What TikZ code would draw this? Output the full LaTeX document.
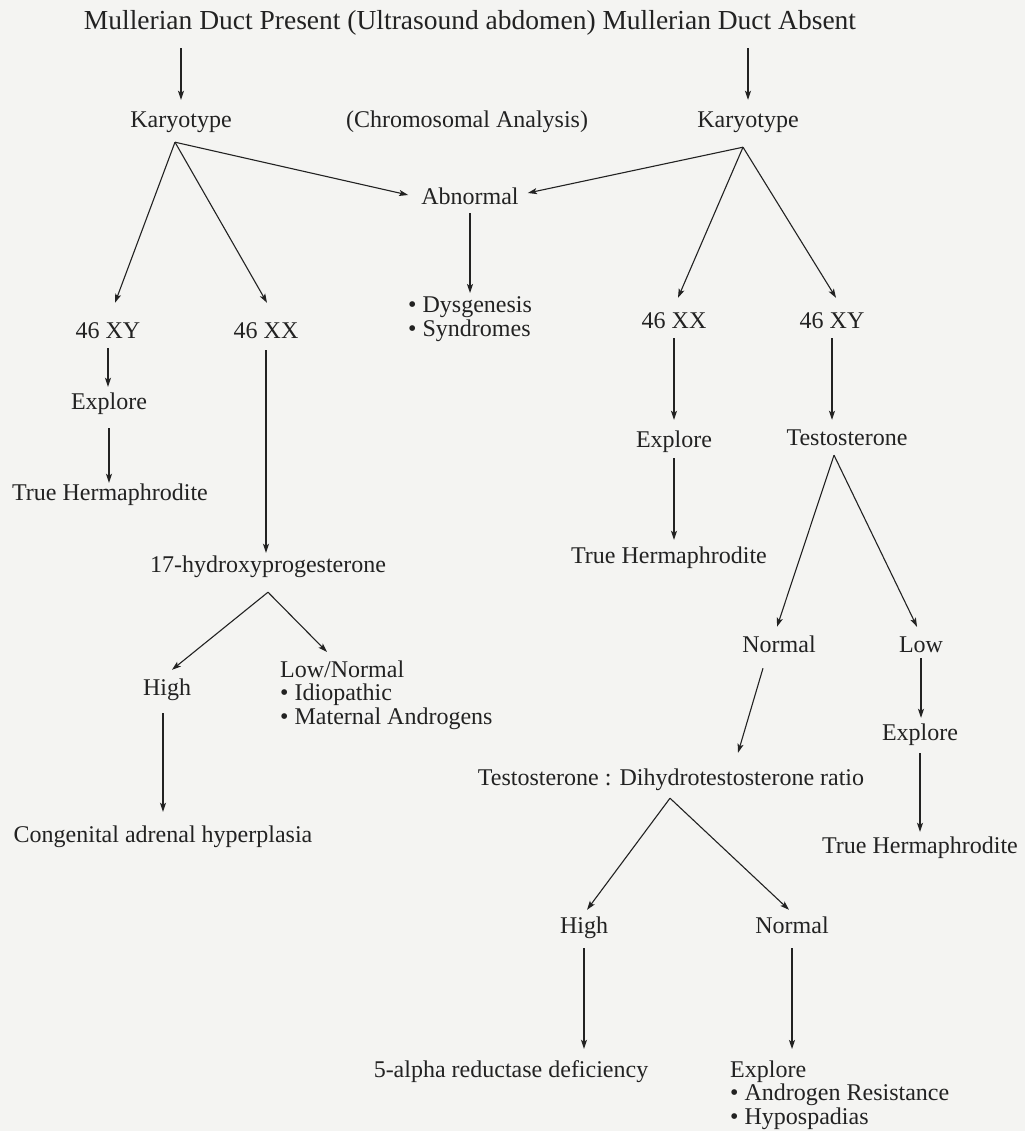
\documentclass[tikz,border=0pt]{standalone}
\usepackage{fontspec}
\setmainfont{Liberation Serif}
\usetikzlibrary{arrows.meta,calc}
\definecolor{bgc}{RGB}{244,244,242}
\definecolor{ink}{RGB}{34,34,34}
\begin{document}
\begin{tikzpicture}[x=1pt,y=-1pt,
  lbl/.style={anchor=base,inner sep=0pt,text height=17pt,text depth=6pt,text=ink,font=\fontsize{24}{23.5}\selectfont},
  blk/.style={anchor=base west,inner sep=0pt,align=left,text=ink,font=\fontsize{24}{23.5}\selectfont},
  toptxt/.style={anchor=base,inner sep=0pt,text height=19pt,text depth=7pt,text=ink,font=\fontsize{27.5}{30}\selectfont},
  arr/.style={draw=ink,line width=1.1pt,-{Stealth[length=9pt,width=6pt,inset=2pt]}}]
\fill[bgc] (0,0) rectangle (1025,1131);
\useasboundingbox (0,0) rectangle (1025,1131);

\node[toptxt] (top) at (470,30) {Mullerian Duct Present (Ultrasound abdomen) Mullerian Duct Absent};
\node[lbl] (K1) at (181,128) {Karyotype};
\node[lbl] (CA) at (467,128) {(Chromosomal Analysis)};
\node[lbl] (K2) at (748,128) {Karyotype};
\node[lbl] (AB) at (470,205) {Abnormal};
\node[blk] (DY) at (408,336) {• Dysgenesis\\• Syndromes};
\node[lbl] (XY1) at (108,338) {46 XY};
\node[lbl] (XX1) at (266,338) {46 XX};
\node[lbl] (EX1) at (109,409) {Explore};
\node[lbl] (TH1) at (110,500) {True Hermaphrodite};
\node[lbl] (OHP) at (268,572) {17-hydroxyprogesterone};
\node[lbl] (HI1) at (167,695) {High};
\node[blk] (LN) at (280,724) {Low/Normal\\• Idiopathic\\• Maternal Androgens};
\node[lbl] (CAH) at (163,842) {Congenital adrenal hyperplasia};
\node[lbl] (XX2) at (674,328) {46 XX};
\node[lbl] (XY2) at (832,328) {46 XY};
\node[lbl] (EX2) at (674,447) {Explore};
\node[lbl] (TH2) at (669,563) {True Hermaphrodite};
\node[lbl] (TE) at (847,445) {Testosterone};
\node[lbl] (NO1) at (779,652) {Normal};
\node[lbl] (LO) at (921,652) {Low};
\node[lbl] (EX3) at (920,740) {Explore};
\node[lbl] (TH3) at (920,853) {True Hermaphrodite};
\node[lbl] (TD) at (671,785) {Testosterone : Dihydrotestosterone ratio};
\node[lbl] (HI2) at (584,933) {High};
\node[lbl] (NO2) at (792,933) {Normal};
\node[lbl] (AR) at (511,1077) {5-alpha reductase deficiency};
\node[blk] (EX4) at (730,1124) {Explore\\• Androgen Resistance\\• Hypospadias};

% top arrows
\draw[arr,shorten <=11pt,shorten >=11pt] (K1.north |- top.south) -- (K1.north);
\draw[arr,shorten <=11pt,shorten >=11pt] (K2.north |- top.south) -- (K2.north);
% left karyotype
\draw[arr] ([xshift=-6pt,yshift=-8pt]K1.south) -- ([xshift=-13pt,yshift=4.5pt]AB.west);
\draw[arr] ([xshift=-6pt,yshift=-8pt]K1.south) -- ([xshift=7pt,yshift=18pt]XY1.north);
\draw[arr] ([xshift=-6pt,yshift=-8pt]K1.south) -- ([xshift=1pt,yshift=18pt]XX1.north);
% right karyotype
\draw[arr] ([xshift=-5pt,yshift=-13pt]K2.south) -- ([xshift=9pt,yshift=6.5pt]AB.east);
\draw[arr] ([xshift=-5pt,yshift=-13pt]K2.south) -- ([xshift=4pt,yshift=13pt]XX2.north);
\draw[arr] ([xshift=-5pt,yshift=-13pt]K2.south) -- ([xshift=4pt,yshift=13pt]XY2.north);
% abnormal
\draw[arr,shorten <=2pt] (AB.south) -- ([xshift=62pt,yshift=43pt]DY.base west);
% left branch
\draw[arr,shorten <=4pt,shorten >=5pt] (XY1.south) -- (XY1.south |- EX1.north);
\draw[arr,shorten <=13pt] (EX1.south) -- (EX1.south |- TH1.north);
\draw[arr,shorten <=6pt,shorten >=2pt] (XX1.south) -- (XX1.south |- OHP.north);
\draw[arr] ([yshift=-14pt]OHP.south) -- ([xshift=5pt,yshift=8pt]HI1.north);
\draw[arr] ([yshift=-14pt]OHP.south) -- ([xshift=47pt,yshift=72pt]LN.base west);
\draw[arr,shorten <=12pt,shorten >=13pt] (CAH.north |- HI1.south) -- (CAH.north);
% right branch
\draw[arr,shorten <=4pt,shorten >=10pt] (XX2.south) -- (XX2.south |- EX2.north);
\draw[arr,shorten <=5pt,shorten >=6pt] (EX2.south) -- (EX2.south |- TH2.north);
\draw[arr,shorten <=4pt,shorten >=8pt] (XY2.south) -- (XY2.south |- TE.north);
\draw[arr] ([xshift=-13pt,yshift=-4pt]TE.south) -- ([xshift=-2pt,yshift=8pt]NO1.north);
\draw[arr] ([xshift=-13pt,yshift=-4pt]TE.south) -- ([xshift=-4pt,yshift=8pt]LO.north);
\draw[arr] ([xshift=-16pt,yshift=-10pt]NO1.south) -- ([xshift=67pt,yshift=15pt]TD.north);
\draw[arr,shorten >=5pt] (LO.south) -- (LO.south |- EX3.north);
\draw[arr,shorten <=7pt,shorten >=4pt] (EX3.south) -- (EX3.south |- TH3.north);
\draw[arr] ([xshift=-1pt,yshift=-7pt]TD.south) -- ([xshift=3pt,yshift=6pt]HI2.north);
\draw[arr] ([xshift=-1pt,yshift=-7pt]TD.south) -- ([xshift=-3pt,yshift=6pt]NO2.north);
\draw[arr,shorten <=9pt,shorten >=11pt] (HI2.south) -- (HI2.south |- AR.north);
\draw[arr,shorten <=9pt] (NO2.south) -- ([xshift=62pt,yshift=75pt]EX4.base west);
\end{tikzpicture}
\end{document}
